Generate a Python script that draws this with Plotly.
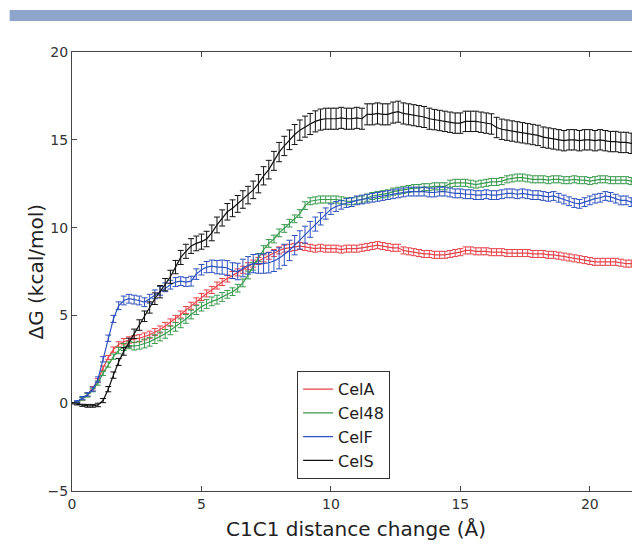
import plotly.graph_objects as go

# Sampling grid of the reaction coordinate (Å)
DIST = [round(0.2 * i, 1) for i in range(110)]

CELA = [0.0, 0.05, 0.25, 0.5, 0.85, 1.3, 2.0, 2.6, 3.05, 3.35,
        3.5, 3.6, 3.65, 3.7, 3.8, 3.9, 4.05, 4.2, 4.4, 4.6,
        4.8, 5.05, 5.3, 5.55, 5.8, 6.05, 6.25, 6.45, 6.7, 6.9,
        7.1, 7.3, 7.45, 7.6, 7.8, 7.95, 8.1, 8.25, 8.4, 8.55,
        8.7, 8.8, 8.85, 8.9, 8.95, 8.9, 8.85, 8.8, 8.85, 8.8,
        8.8, 8.8, 8.75, 8.8, 8.8, 8.8, 8.85, 8.9, 8.95, 9.0,
        8.95, 8.9, 8.85, 8.85, 8.7, 8.65, 8.6, 8.55, 8.5, 8.5,
        8.45, 8.45, 8.45, 8.5, 8.55, 8.6, 8.7, 8.7, 8.65, 8.65,
        8.65, 8.6, 8.6, 8.6, 8.55, 8.55, 8.55, 8.55, 8.55, 8.5,
        8.5, 8.5, 8.45, 8.45, 8.4, 8.35, 8.3, 8.25, 8.2, 8.15,
        8.1, 8.05, 8.05, 8.05, 8.05, 8.05, 8.0, 7.95, 7.95, 7.95]

CEL48 = [0.0, 0.05, 0.25, 0.45, 0.75, 1.15, 1.7, 2.2, 2.65, 3.0,
         3.2, 3.3, 3.25, 3.3, 3.4, 3.5, 3.65, 3.8, 3.95, 4.15,
         4.35, 4.55, 4.8, 5.05, 5.3, 5.5, 5.65, 5.8, 5.9, 6.05,
         6.2, 6.35, 6.55, 6.85, 7.3, 7.8, 8.3, 8.75, 9.1, 9.35,
         9.7, 9.95, 10.25, 10.5, 10.8, 11.25, 11.5, 11.55, 11.6, 11.6,
         11.6, 11.6, 11.55, 11.5, 11.5, 11.55, 11.6, 11.7, 11.8, 11.85,
         11.9, 11.95, 12.05, 12.1, 12.15, 12.2, 12.25, 12.25, 12.3, 12.3,
         12.35, 12.35, 12.35, 12.5, 12.55, 12.55, 12.55, 12.5, 12.45, 12.5,
         12.55, 12.6, 12.6, 12.65, 12.75, 12.8, 12.85, 12.85, 12.8, 12.75,
         12.75, 12.75, 12.7, 12.75, 12.75, 12.7, 12.7, 12.75, 12.7, 12.7,
         12.65, 12.7, 12.75, 12.75, 12.7, 12.7, 12.7, 12.7, 12.65, 12.65]

CELF = [0.0, 0.1, 0.3, 0.5, 0.8, 1.35, 2.5, 3.7, 4.8, 5.55,
        5.85, 5.95, 5.9, 5.85, 5.75, 5.95, 6.2, 6.4, 6.6, 6.75,
        6.9, 6.95, 6.9, 6.95, 7.35, 7.6, 7.75, 7.8, 7.75, 7.75,
        7.7, 7.55, 7.5, 7.7, 7.85, 7.95, 7.95, 7.95, 8.0, 8.1,
        8.25, 8.45, 8.7, 9.0, 9.3, 9.6, 9.9, 10.2, 10.5, 10.8,
        11.05, 11.2, 11.3, 11.4, 11.45, 11.55, 11.6, 11.65, 11.7, 11.75,
        11.8, 11.85, 11.9, 11.95, 12.0, 12.05, 12.05, 12.05, 12.05, 12.0,
        12.0, 12.05, 12.05, 12.0, 11.95, 11.95, 11.9, 11.9, 11.85, 11.85,
        11.9, 11.85, 11.85, 11.9, 11.95, 11.95, 11.9, 11.95, 11.9, 11.85,
        11.85, 11.8, 11.75, 11.8, 11.7, 11.6, 11.5, 11.4, 11.35, 11.45,
        11.55, 11.65, 11.7, 11.8, 11.75, 11.65, 11.55, 11.55, 11.45, 11.45]

CELS = [0.0, -0.05, -0.12, -0.15, -0.15, -0.1, 0.15, 0.8, 1.6, 2.35,
        2.95, 3.45, 3.95, 4.45, 4.95, 5.45, 5.95, 6.35, 6.75, 7.2,
        7.75, 8.3, 8.65, 8.95, 9.1, 9.2, 9.35, 9.7, 10.15, 10.55,
        10.9, 11.1, 11.35, 11.6, 11.85, 12.15, 12.5, 12.95, 13.3, 13.8,
        14.3, 14.65, 15.0, 15.3, 15.55, 15.75, 15.9, 16.05, 16.15, 16.2,
        16.2, 16.2, 16.25, 16.2, 16.2, 16.25, 16.2, 16.45, 16.45, 16.5,
        16.45, 16.45, 16.55, 16.6, 16.5, 16.45, 16.4, 16.35, 16.3, 16.2,
        16.15, 16.1, 16.05, 16.0, 15.95, 15.95, 16.05, 16.05, 16.05, 16.0,
        15.95, 15.9, 15.7, 15.6, 15.55, 15.5, 15.45, 15.4, 15.35, 15.3,
        15.25, 15.15, 15.1, 15.05, 15.0, 14.95, 15.0, 15.0, 14.95, 15.0,
        15.0, 14.95, 15.0, 14.95, 14.9, 14.9, 14.85, 14.85, 14.8, 14.8]

ERR_CELA = [0.03, 0.05, 0.08, 0.1, 0.1, 0.1, 0.12, 0.12, 0.15, 0.15,
            0.18, 0.18, 0.2, 0.2, 0.2, 0.2, 0.2, 0.2, 0.2, 0.2,
            0.2, 0.2, 0.2, 0.2, 0.2, 0.2, 0.2, 0.2, 0.2, 0.2,
            0.2, 0.2, 0.2, 0.2, 0.2, 0.2, 0.2, 0.2, 0.2, 0.2,
            0.2, 0.2, 0.2, 0.2, 0.2, 0.2, 0.2, 0.2, 0.2, 0.2,
            0.2, 0.2, 0.2, 0.2, 0.2, 0.2, 0.2, 0.2, 0.2, 0.2,
            0.2, 0.2, 0.2, 0.2, 0.2, 0.2, 0.2, 0.2, 0.2, 0.2,
            0.2, 0.2, 0.2, 0.2, 0.2, 0.2, 0.2, 0.2, 0.2, 0.2,
            0.2, 0.2, 0.2, 0.2, 0.2, 0.2, 0.2, 0.2, 0.2, 0.2,
            0.2, 0.2, 0.2, 0.2, 0.2, 0.2, 0.2, 0.2, 0.2, 0.2,
            0.2, 0.2, 0.2, 0.2, 0.2, 0.2, 0.2, 0.2, 0.2, 0.2]

ERR_CEL48 = [0.03, 0.05, 0.08, 0.1, 0.1, 0.12, 0.12, 0.15, 0.15, 0.18,
             0.2, 0.2, 0.22, 0.22, 0.25, 0.25, 0.25, 0.25, 0.25, 0.25,
             0.25, 0.25, 0.25, 0.25, 0.25, 0.25, 0.25, 0.25, 0.25, 0.25,
             0.22, 0.22, 0.22, 0.22, 0.22, 0.22, 0.22, 0.22, 0.22, 0.22,
             0.22, 0.22, 0.22, 0.22, 0.22, 0.22, 0.2, 0.2, 0.2, 0.2,
             0.2, 0.2, 0.2, 0.2, 0.2, 0.2, 0.2, 0.2, 0.2, 0.2,
             0.2, 0.2, 0.2, 0.2, 0.2, 0.2, 0.2, 0.2, 0.2, 0.2,
             0.2, 0.2, 0.2, 0.2, 0.2, 0.2, 0.2, 0.2, 0.2, 0.2,
             0.2, 0.2, 0.2, 0.2, 0.2, 0.2, 0.2, 0.2, 0.2, 0.2,
             0.2, 0.2, 0.2, 0.2, 0.2, 0.2, 0.2, 0.2, 0.2, 0.2,
             0.2, 0.2, 0.2, 0.2, 0.2, 0.2, 0.2, 0.2, 0.2, 0.2]

ERR_CELF = [0.03, 0.05, 0.08, 0.1, 0.12, 0.15, 0.15, 0.18, 0.2, 0.22,
            0.25, 0.25, 0.25, 0.25, 0.25, 0.25, 0.25, 0.25, 0.25, 0.25,
            0.25, 0.25, 0.25, 0.28, 0.3, 0.3, 0.32, 0.35, 0.38, 0.4,
            0.42, 0.45, 0.47, 0.5, 0.5, 0.52, 0.55, 0.55, 0.58, 0.6,
            0.6, 0.6, 0.58, 0.55, 0.52, 0.48, 0.45, 0.4, 0.35, 0.32,
            0.3, 0.28, 0.25, 0.25, 0.25, 0.25, 0.25, 0.25, 0.25, 0.25,
            0.25, 0.25, 0.25, 0.25, 0.25, 0.25, 0.25, 0.25, 0.25, 0.25,
            0.25, 0.25, 0.25, 0.25, 0.25, 0.25, 0.25, 0.25, 0.25, 0.25,
            0.25, 0.25, 0.25, 0.25, 0.25, 0.25, 0.25, 0.25, 0.25, 0.25,
            0.25, 0.25, 0.25, 0.25, 0.25, 0.25, 0.25, 0.25, 0.25, 0.25,
            0.25, 0.25, 0.25, 0.25, 0.25, 0.25, 0.25, 0.25, 0.25, 0.25]

ERR_CELS = [0.03, 0.05, 0.06, 0.08, 0.08, 0.1, 0.12, 0.15, 0.18, 0.2,
            0.22, 0.25, 0.27, 0.3, 0.3, 0.32, 0.33, 0.35, 0.35, 0.37,
            0.38, 0.4, 0.4, 0.42, 0.42, 0.43, 0.44, 0.45, 0.45, 0.46,
            0.47, 0.48, 0.48, 0.5, 0.5, 0.5, 0.52, 0.52, 0.53, 0.54,
            0.55, 0.55, 0.56, 0.57, 0.58, 0.6, 0.6, 0.6, 0.6, 0.6,
            0.6, 0.6, 0.6, 0.6, 0.6, 0.6, 0.6, 0.6, 0.6, 0.6,
            0.6, 0.6, 0.6, 0.6, 0.6, 0.6, 0.6, 0.6, 0.6, 0.6,
            0.58, 0.58, 0.58, 0.58, 0.58, 0.58, 0.58, 0.58, 0.58, 0.58,
            0.58, 0.58, 0.58, 0.58, 0.58, 0.58, 0.58, 0.58, 0.58, 0.58,
            0.58, 0.58, 0.58, 0.58, 0.58, 0.58, 0.58, 0.58, 0.58, 0.58,
            0.58, 0.58, 0.58, 0.58, 0.58, 0.58, 0.58, 0.58, 0.58, 0.58]

SERIES = [
    ("CelA", CELA, ERR_CELA, "#e8424a"),
    ("Cel48", CEL48, ERR_CEL48, "#3a9a4e"),
    ("CelF", CELF, ERR_CELF, "#2f52c0"),
    ("CelS", CELS, ERR_CELS, "#111111"),
]

X_TICKS = [0, 5, 10, 15, 20]
Y_TICKS = [-5, 0, 5, 10, 15, 20]
Y_TICK_TEXT = ["\u22125", "0", "5", "10", "15", "20"]
X_TITLE = "C1C1 distance change (\u00c5)"
Y_TITLE = "\u0394G (kcal/mol)"

FONT = "DejaVu Sans"

fig = go.Figure()
for name, vals, errs, color in SERIES:
    fig.add_trace(go.Scatter(
        x=DIST, y=vals, name=name, mode="lines",
        line=dict(color=color, width=1.2),
        error_y=dict(type="data", array=errs, visible=True,
                     color=color, thickness=1, width=3),
    ))

axis_common = dict(
    showline=True, linecolor="#444444", linewidth=1, mirror="allticks",
    ticks="inside", ticklen=5, tickcolor="#444444", tickwidth=1,
    showgrid=False, zeroline=False,
    tickfont=dict(family=FONT, size=14, color="#333333"),
)

# The page body adds an 8px offset; the figure is sized accordingly.
fig.update_layout(
    width=632, height=538,
    margin=dict(l=64, r=1, t=44, b=55),
    paper_bgcolor="white", plot_bgcolor="white",
    font=dict(family=FONT, color="#222222"),
    xaxis=dict(range=[0, 21.9], tickvals=X_TICKS, **axis_common),
    yaxis=dict(range=[-5, 20], tickvals=Y_TICKS, ticktext=Y_TICK_TEXT,
               **axis_common),
    legend=dict(x=0.397, y=0.273, xanchor="left", yanchor="top",
                bordercolor="#333333", borderwidth=1, bgcolor="white",
                font=dict(family=FONT, size=16, color="#222222"),
                tracegroupgap=0),
    showlegend=True,
)

# axis titles
fig.add_annotation(text=X_TITLE, xref="paper", yref="paper", x=0.5, y=0,
                   xanchor="center", yanchor="middle", yshift=-38,
                   showarrow=False,
                   font=dict(family=FONT, size=20, color="#222222"))
fig.add_annotation(text=Y_TITLE, xref="paper", yref="paper", x=0, y=0.5,
                   xanchor="center", yanchor="middle", xshift=-37,
                   textangle=-90, showarrow=False,
                   font=dict(family=FONT, size=20, color="#222222"))

# decorative banner above the chart
fig.add_shape(type="rect", xref="paper", yref="paper",
              x0=-0.11, x1=1.01, y0=1.0706, y1=1.0957,
              fillcolor="#8ea6cc", line=dict(width=0), layer="above")

fig.write_html("out.html")
